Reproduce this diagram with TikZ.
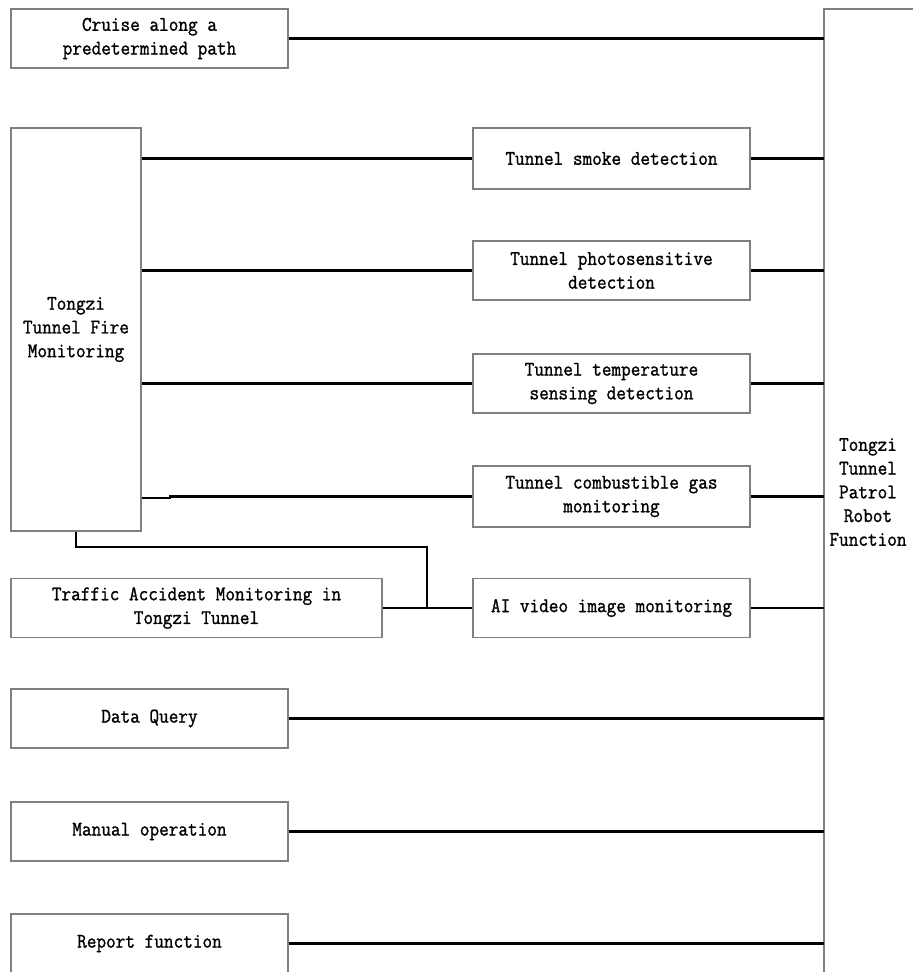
\documentclass[tikz,border=0pt]{standalone}
\usepackage{fontspec}
\newfontfamily\boxfam[FakeBold=1.2, FakeStretch=0.9]{Latin Modern Mono}
\newcommand\boxfont{\boxfam\fontsize{15.6}{17.8}\selectfont}
\tikzset{
  box/.style 2 args={draw=black!50, line width=0.8pt, inner sep=0pt, align=center,
    font=\boxfont, minimum width=#1*0.75pt, minimum height=#2*0.75pt},
  conn/.style={line width=1.6pt, black},
  frame/.style={draw=black!50, line width=0.8pt},
}
\begin{document}
\begin{tikzpicture}[x=0.75pt, y=-0.75pt]
\useasboundingbox (0,0) rectangle (913,972);
% left column
\node[box={277}{59}] (cruise) at (149.5,38.5) {Cruise along a\\predetermined path};
\node[box={130}{403}] (fire) at (76,329.5) {Tongzi\\Tunnel Fire\\Monitoring};
\node[box={371}{59}] (traffic) at (196.5,608) {Traffic Accident Monitoring in\\Tongzi Tunnel};
\node[box={277}{59}] (data) at (149.5,718.5) {Data Query};
\node[box={277}{59}] (manual) at (149.5,831.5) {Manual operation};
\node[box={277}{59}] (report) at (149.5,943.5) {Report function};
% middle column
\node[box={277}{61}] (smoke) at (611.5,158.5) {Tunnel smoke detection};
\node[box={277}{59}] (photo) at (611.5,270.5) {Tunnel photosensitive\\detection};
\node[box={277}{59}] (temp) at (611.5,383.5) {Tunnel temperature\\sensing detection};
\node[box={277}{61}] (gas) at (611.5,496.5) {Tunnel combustible gas\\monitoring};
\node[box={277}{59}] (ai) at (611.5,608) {AI video image monitoring};
% right frame
\coordinate (rb) at (824,0);
\coordinate (rtop) at (824,9);
\coordinate (rbot) at (824,972);
\draw[frame] (913,9) -- (rtop) -- (rbot);
\node[font=\boxfont, align=center, inner sep=0pt] (robot) at (868,492) {Tongzi\\Tunnel\\Patrol\\Robot\\Function};
% connectors to the right frame
\draw[conn] (cruise.east) -- (cruise.east -| rb);
\draw[conn] (smoke.east) -- (smoke.east -| rb);
\draw[conn] (photo.east) -- (photo.east -| rb);
\draw[conn] (temp.east) -- (temp.east -| rb);
\draw[conn] (gas.east) -- (gas.east -| rb);
\draw[conn] (ai.east) -- (ai.east -| rb);
\draw[conn] (data.east) -- (data.east -| rb);
\draw[conn] (manual.east) -- (manual.east -| rb);
\draw[conn] (report.east) -- (report.east -| rb);
% fire monitoring connectors
\draw[conn] (fire.east |- smoke.west) -- (smoke.west);
\draw[conn] (fire.east |- photo.west) -- (photo.west);
\draw[conn] (fire.east |- temp.west) -- (temp.west);
\coordinate (j1) at (170,498);
\draw[conn] (fire.east |- j1) -- (j1) |- (gas.west);
\coordinate (j2) at (427,547);
\draw[conn] (fire.south) |- (j2) -- (j2 |- ai.west);
\draw[conn] (traffic.east) -- (ai.west);
\end{tikzpicture}
\end{document}
